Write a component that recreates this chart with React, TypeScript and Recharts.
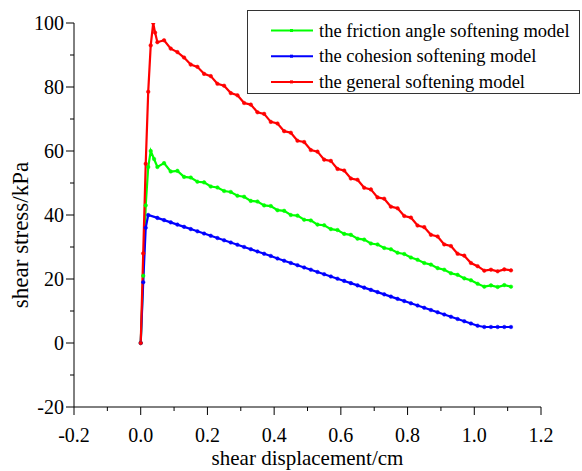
import React from 'react';
import { LineChart, Line, XAxis, YAxis } from 'recharts';

// ---------- data ----------
const tailDisplacement = [
  0.05, 0.07, 0.09, 0.11, 0.13, 0.15, 0.17, 0.19, 0.21, 0.23,
  0.25, 0.27, 0.29, 0.31, 0.33, 0.35, 0.37, 0.39, 0.41, 0.43,
  0.45, 0.47, 0.49, 0.51, 0.53, 0.55, 0.57, 0.59, 0.61, 0.63,
  0.65, 0.67, 0.69, 0.71, 0.73, 0.75, 0.77, 0.79, 0.81, 0.83,
  0.85, 0.87, 0.89, 0.91, 0.93, 0.95, 0.97, 0.99, 1.01, 1.03,
  1.05, 1.07, 1.09, 1.11,
];

const frictionRiseX = [0, 0.0075, 0.015, 0.0225, 0.03, 0.04];
const frictionRiseY = [0, 21, 43, 55, 60, 57.5];
const frictionTailY = [
  55.0, 56.2, 53.6, 53.8, 51.9, 51.7, 50.4, 50.2, 48.9, 48.6,
  47.5, 47.2, 46.0, 45.7, 44.4, 44.2, 43.0, 42.8, 41.5, 41.3,
  40.0, 39.8, 38.5, 38.3, 37.0, 36.8, 35.6, 35.3, 34.1, 33.8,
  32.6, 32.3, 31.1, 30.8, 29.7, 29.3, 28.2, 27.8, 26.7, 26.0,
  25.0, 24.5, 23.4, 22.9, 21.8, 21.3, 20.2, 19.6, 18.5, 17.6,
  18.0, 17.5, 18.1, 17.6,
];

const cohesionRiseX = [0, 0.0075, 0.015, 0.0225];
const cohesionRiseY = [0, 19, 36, 40];
const cohesionTailY = [
  39.1, 38.4, 37.7, 37.0, 36.3, 35.6, 34.9, 34.2, 33.5, 32.8,
  32.1, 31.4, 30.7, 30.0, 29.3, 28.6, 27.9, 27.2, 26.4, 25.7,
  25.0, 24.3, 23.6, 22.9, 22.2, 21.5, 20.8, 20.1, 19.4, 18.7,
  18.0, 17.3, 16.6, 15.9, 15.2, 14.5, 13.8, 13.1, 12.4, 11.7,
  11.0, 10.3, 9.6, 8.9, 8.2, 7.5, 6.8, 6.1, 5.4, 5.0,
  5.0, 5.0, 5.0, 5.0,
];

const generalRiseX = [0, 0.0075, 0.015, 0.0225, 0.03, 0.0375, 0.043];
const generalRiseY = [0, 28, 56, 78.5, 93, 100, 97];
const generalTailY = [
  94.0, 94.6, 92.0, 90.9, 89.2, 87.0, 86.3, 84.1, 83.4, 81.0,
  80.4, 78.1, 77.4, 75.0, 74.5, 72.1, 71.6, 69.1, 68.6, 66.2,
  65.7, 63.2, 62.8, 60.3, 59.8, 57.3, 56.9, 54.4, 53.9, 51.4,
  51.0, 48.5, 48.0, 45.5, 45.1, 42.6, 42.1, 39.7, 39.2, 36.7,
  36.2, 33.8, 33.3, 30.8, 30.3, 27.9, 27.3, 25.0, 24.0, 22.6,
  22.9, 22.4, 23.0, 22.7,
];

const seriesNames = [
  'the friction angle softening model',
  'the cohesion softening model',
  'the general softening model',
];
const seriesColors = ['#00ff00', '#0000ff', '#ff0000'];

const xTicks = [-0.2, -0.1, 0, 0.1, 0.2, 0.3, 0.4, 0.5, 0.6, 0.7, 0.8, 0.9, 1.0, 1.1, 1.2];
const yTicks = [-20, -10, 0, 10, 20, 30, 40, 50, 60, 70, 80, 90, 100];

const xTitle = 'shear displacement/cm';
const yTitle = 'shear stress/kPa';

// ---------- helpers ----------
const build = (riseX: number[], riseY: number[], tailY: number[]) => [
  ...riseX.map((x, i) => ({ x, y: riseY[i] })),
  ...tailDisplacement.map((x, i) => ({ x, y: tailY[i] })),
];

const frictionData = build(frictionRiseX, frictionRiseY, frictionTailY);
const cohesionData = build(cohesionRiseX, cohesionRiseY, cohesionTailY);
const generalData = build(generalRiseX, generalRiseY, generalTailY);
const allData = [frictionData, cohesionData, generalData];

const FONT = '"Liberation Serif", "Times New Roman", serif';

const XTick = (props: any) => {
  const { x, y, payload } = props;
  const v = payload.value as number;
  const major = Math.round(v * 10) % 2 === 0;
  return (
    <g>
      <line x1={x} x2={x} y1={y} y2={y + (major ? 8 : 4)} stroke="#000" strokeWidth={1} />
      {major && (
        <text x={x} y={y + 35} textAnchor="middle" fontSize={20} fontFamily={FONT} fill="#000">
          {v.toFixed(1)}
        </text>
      )}
    </g>
  );
};

const YTick = (props: any) => {
  const { x, y, payload } = props;
  const v = payload.value as number;
  const major = Math.round(v) % 20 === 0;
  return (
    <g>
      <line x1={x - (major ? 8 : 4)} x2={x} y1={y} y2={y} stroke="#000" strokeWidth={1} />
      {major && (
        <text x={x - 10} y={y + 7} textAnchor="end" fontSize={20} fontFamily={FONT} fill="#000">
          {v}
        </text>
      )}
    </g>
  );
};

const XTitle = (props: any) => {
  const vb = props.viewBox || {};
  return (
    <text x={vb.x + vb.width / 2} y={vb.y + 58} textAnchor="middle" fontSize={21} fontFamily={FONT} fill="#000">
      {xTitle}
    </text>
  );
};

const YTitle = (props: any) => {
  const vb = props.viewBox || {};
  const cx = 20;
  const cy = vb.y + vb.height / 2 + 20;
  return (
    <text
      x={cx}
      y={cy}
      transform={`rotate(-90, ${cx}, ${cy})`}
      textAnchor="middle"
      dominantBaseline="central"
      fontSize={23}
      fontFamily={FONT}
      fill="#000"
    >
      {yTitle}
    </text>
  );
};

const LegendBox = () => (
  <svg
    width={334}
    height={85}
    style={{ position: 'absolute', left: 247, top: 10 }}
  >
    <rect x={0.5} y={0.5} width={332} height={83} fill="#fff" stroke="#333" strokeWidth={1} />
    {seriesNames.map((name, i) => {
      const cy = 20.5 + i * 25.7;
      return (
        <g key={name}>
          <line x1={24} x2={66} y1={cy} y2={cy} stroke={seriesColors[i]} strokeWidth={2} />
          <rect x={43} y={cy - 1.5} width={3} height={3} fill={seriesColors[i]} />
          <text x={72} y={cy + 6} fontSize={18.5} fontFamily={FONT} fill="#000">
            {name}
          </text>
        </g>
      );
    })}
  </svg>
);

export default function App() {
  return (
    <div style={{ position: 'absolute', left: 0, top: 0, width: 582, height: 471, background: '#fff' }}>
      <LineChart width={582} height={471} margin={{ top: 23, right: 41, bottom: 0, left: 0 }}>
        <XAxis
          type="number"
          dataKey="x"
          domain={[-0.2, 1.2]}
          ticks={xTicks}
          interval={0}
          allowDataOverflow
          height={64}
          tickSize={0}
          tickMargin={0}
          tickLine={false}
          tick={<XTick />}
          axisLine={{ stroke: '#000', strokeWidth: 1 }}
          label={<XTitle />}
        />
        <YAxis
          type="number"
          domain={[-20, 100]}
          ticks={yTicks}
          interval={0}
          allowDataOverflow
          width={74}
          tickSize={0}
          tickMargin={0}
          tickLine={false}
          tick={<YTick />}
          axisLine={{ stroke: '#000', strokeWidth: 1 }}
          label={<YTitle />}
        />
        {allData.map((d, i) => (
          <Line
            key={seriesNames[i]}
            data={d}
            dataKey="y"
            name={seriesNames[i]}
            type="linear"
            stroke={seriesColors[i]}
            strokeWidth={2.2}
            dot={{ r: 1.8, fill: seriesColors[i], stroke: seriesColors[i], strokeWidth: 0.5 }}
            activeDot={false}
            isAnimationActive={false}
          />
        ))}
      </LineChart>
      <LegendBox />
    </div>
  );
}
